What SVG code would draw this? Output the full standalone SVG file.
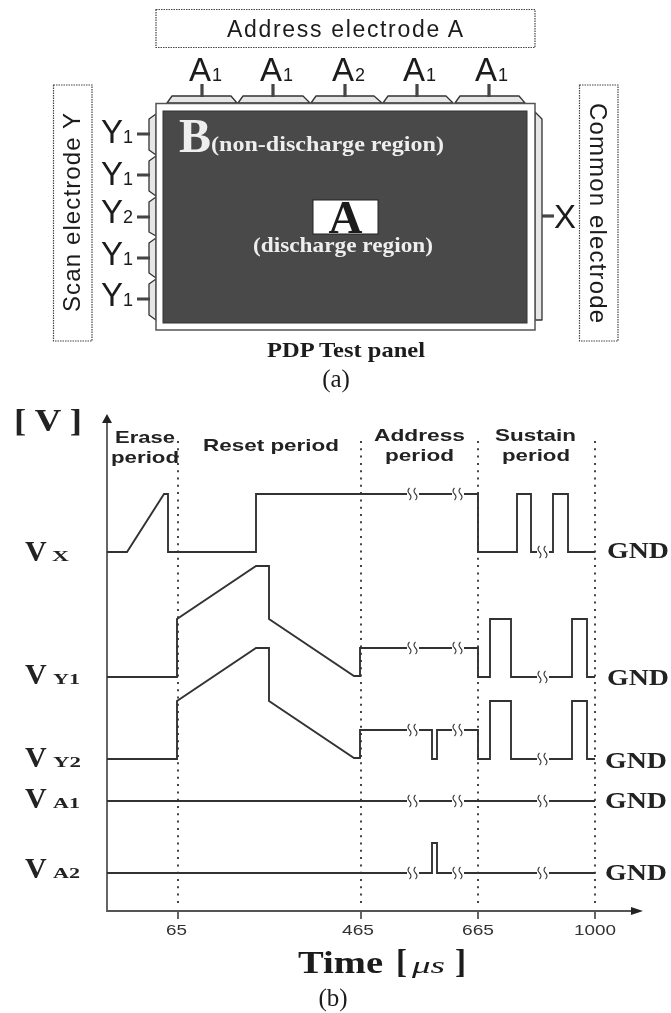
<svg xmlns="http://www.w3.org/2000/svg" width="671" height="1013" viewBox="0 0 671 1013">
<style>
.sans{font-family:"Liberation Sans",Arial,sans-serif;fill:#1a1a1a}
.serif{font-family:"Liberation Serif","Times New Roman",serif;fill:#1a1a1a}
.b{font-weight:bold}
.lab{font-size:33px}
.sub{font-size:18px}
.dotbox{fill:#fff;stroke:#444;stroke-width:1.2;stroke-dasharray:1.5 1}
.tab{fill:#e6e6e6;stroke:#333;stroke-width:1.3;stroke-linejoin:round}
.stem{stroke:#444;stroke-width:3.2;fill:none}
.wave{fill:none;stroke:#333;stroke-width:1.9;stroke-linejoin:miter}
.axis{fill:none;stroke:#555;stroke-width:1.8}
.dots{fill:none;stroke:#444;stroke-width:2;stroke-dasharray:2 5.3}
.per{font-family:"Liberation Sans",Arial,sans-serif;font-weight:bold;font-size:17px;fill:#222}
.v{font-family:"Liberation Serif",serif;font-weight:bold;font-size:30px;fill:#222}
.vs{font-family:"Liberation Serif",serif;font-weight:bold;font-size:15px;fill:#222}
.gnd{font-family:"Liberation Serif",serif;font-weight:bold;font-size:23px;fill:#222}
.tick{font-family:"Liberation Sans",sans-serif;font-size:15.5px;fill:#333}
</style>
<defs>
<g id="brk"><rect x="-6" y="-5" width="12" height="10" fill="#fff"/><path d="M-3.5,-6 Q-6.500,-3 -3.500,0 Q-0.500,3 -3.500,6 M2.500,-6 Q-0.500,-3 2.500,0 Q5.500,3 2.500,6" fill="none" stroke="#333" stroke-width="1.1"/></g>
<filter id="soft" x="-2%" y="-2%" width="104%" height="104%"><feGaussianBlur stdDeviation="0.45"/></filter>
</defs>
<rect width="671" height="1013" fill="#fff"/>
<g filter="url(#soft)">
<g id="address-box"><rect class="dotbox" x="156" y="9.5" width="379" height="38"/><text class="sans" x="227" y="37" font-size="23" textLength="236">Address electrode A</text></g>
<g id="scan-box"><rect class="dotbox" x="53.500" y="85" width="38.500" height="256"/><text class="sans" font-size="24" transform="translate(80,312) rotate(-90)" textLength="199">Scan electrode Y</text></g>
<g id="common-box"><rect class="dotbox" x="579.500" y="85" width="38.500" height="256"/><text class="sans" font-size="24" transform="translate(590,103) rotate(90)" textLength="220">Common electrode</text></g>

<g id="panel">
<path class="tab" d="M167,103L172,96H231L237,103Z M238,103L243,96H303L310,103Z M311,103L316,96H374L382,103Z M383,103L388,96H446L453,103Z M455,103L460,96H519L525,103Z"/>
<path class="tab" d="M156,114L149,119V150L156,155Z M156,156L149,161V191L156,196Z M156,197L149,202V232L156,236Z M156,238L149,243V273L156,278Z M156,279L149,284V315L156,320Z"/>
<path class="tab" d="M535,112L542,119V320H535Z"/>
<rect x="156" y="103.500" width="379" height="226.500" fill="#fff" stroke="#555" stroke-width="1.500"/>
<rect x="163" y="111" width="364" height="212" fill="#484848" stroke="#333"/>
<rect x="313" y="200" width="65" height="34" fill="#fff" stroke="#222"/>
<text class="serif b" x="345.500" y="233" font-size="47" text-anchor="middle" fill="#111">A</text>
<text x="179" y="152" font-family="Liberation Serif,serif" font-weight="bold" font-size="48" fill="#eee">B</text>
<text x="211" y="151" font-family="Liberation Serif,serif" font-weight="bold" font-size="22" fill="#eee" textLength="233" lengthAdjust="spacingAndGlyphs">(non-discharge region)</text>
<text x="253" y="252" font-family="Liberation Serif,serif" font-weight="bold" font-size="21" fill="#eee" textLength="180" lengthAdjust="spacingAndGlyphs">(discharge region)</text>
</g>

<g id="address-terminals">
<path class="stem" d="M202,84V97M273,84V97M345,84V97M417,84V97M489,84V97"/>
<text class="sans lab" x="189" y="81">A</text><text class="sans sub" x="212" y="81">1</text>
<text class="sans lab" x="260" y="81">A</text><text class="sans sub" x="283" y="81">1</text>
<text class="sans lab" x="332" y="81">A</text><text class="sans sub" x="355" y="81">2</text>
<text class="sans lab" x="403" y="81">A</text><text class="sans sub" x="426" y="81">1</text>
<text class="sans lab" x="475" y="81">A</text><text class="sans sub" x="498" y="81">1</text>
</g>
<g id="scan-terminals">
<path class="stem" d="M137,134H150M137,175H150M137,217H150M137,258H150M137,299H150"/>
<text class="sans lab" x="101" y="143">Y</text><text class="sans sub" x="123" y="143">1</text>
<text class="sans lab" x="101" y="185">Y</text><text class="sans sub" x="123" y="185">1</text>
<text class="sans lab" x="101" y="223">Y</text><text class="sans sub" x="123" y="223">2</text>
<text class="sans lab" x="101" y="265">Y</text><text class="sans sub" x="123" y="265">1</text>
<text class="sans lab" x="101" y="306">Y</text><text class="sans sub" x="123" y="306">1</text>
</g>
<g id="common-terminal"><path class="stem" d="M542,216H554"/><text class="sans lab" x="554" y="228">X</text></g>
<text class="serif b" x="267" y="357" font-size="22" textLength="158" lengthAdjust="spacingAndGlyphs">PDP Test panel</text>
<text class="serif" x="336" y="387" font-size="25" text-anchor="middle">(a)</text>

<g id="axes">
<path class="axis" d="M107,418V911H636"/>
<path d="M107,414L102,423H112Z M643,911L631,907V915Z" fill="#222"/>
<path class="axis" d="M178,911V919M361,911V919M478,911V919M595,911V919"/>
<path class="dots" d="M178,441V908M361,441V908M478,441V908M595,441V908"/>
</g>
<g id="labels">
<text x="14" y="431" font-family="Liberation Serif,serif" font-weight="bold" font-size="31" fill="#222" textLength="68" lengthAdjust="spacingAndGlyphs">[ V ]</text>
<text class="per" x="115" y="443" textLength="60" lengthAdjust="spacingAndGlyphs">Erase</text><text class="per" x="111" y="463" textLength="68" lengthAdjust="spacingAndGlyphs">period</text>
<text class="per" x="203" y="451" textLength="136" lengthAdjust="spacingAndGlyphs">Reset period</text>
<text class="per" x="374" y="441" textLength="91" lengthAdjust="spacingAndGlyphs">Address</text><text class="per" x="385" y="461" textLength="69" lengthAdjust="spacingAndGlyphs">period</text>
<text class="per" x="495" y="441" textLength="81" lengthAdjust="spacingAndGlyphs">Sustain</text><text class="per" x="502" y="461" textLength="68" lengthAdjust="spacingAndGlyphs">period</text>
<text class="v" x="25" y="561">V</text><text class="vs" x="52" y="561" textLength="17" lengthAdjust="spacingAndGlyphs">X</text>
<text class="v" x="25" y="684">V</text><text class="vs" x="53" y="684" textLength="27" lengthAdjust="spacingAndGlyphs">Y1</text>
<text class="v" x="25" y="767">V</text><text class="vs" x="53" y="767" textLength="28" lengthAdjust="spacingAndGlyphs">Y2</text>
<text class="v" x="25" y="808">V</text><text class="vs" x="53" y="808" textLength="27" lengthAdjust="spacingAndGlyphs">A1</text>
<text class="v" x="25" y="878">V</text><text class="vs" x="53" y="878" textLength="27" lengthAdjust="spacingAndGlyphs">A2</text>
<text class="gnd" x="607" y="558" textLength="62" lengthAdjust="spacingAndGlyphs">GND</text>
<text class="gnd" x="607" y="685" textLength="62" lengthAdjust="spacingAndGlyphs">GND</text>
<text class="gnd" x="605" y="768" textLength="62" lengthAdjust="spacingAndGlyphs">GND</text>
<text class="gnd" x="605" y="808" textLength="62" lengthAdjust="spacingAndGlyphs">GND</text>
<text class="gnd" x="605" y="880" textLength="62" lengthAdjust="spacingAndGlyphs">GND</text>
<text class="tick" x="166" y="935" textLength="21" lengthAdjust="spacingAndGlyphs">65</text><text class="tick" x="342" y="935" textLength="32" lengthAdjust="spacingAndGlyphs">465</text><text class="tick" x="462" y="935" textLength="32" lengthAdjust="spacingAndGlyphs">665</text><text class="tick" x="574" y="935" textLength="42" lengthAdjust="spacingAndGlyphs">1000</text>
<text class="serif b" x="298" y="973" font-size="31" textLength="85" lengthAdjust="spacingAndGlyphs">Time</text>
<text class="serif b" x="396" y="973" font-size="33">[</text>
<text class="serif" x="412" y="973" font-size="24" font-style="italic" textLength="33" lengthAdjust="spacingAndGlyphs">μs</text>
<text class="serif b" x="455" y="973" font-size="33">]</text>
<text class="serif" x="333" y="1006" font-size="25" text-anchor="middle">(b)</text>
</g>
<g id="waveforms">
<path class="wave" d="M107,552H127L164,494H168V552H256V494H478V552H517V494H531V552H553V494H568V552H595"/>
<path class="wave" d="M107,677H177V619L256,566H269V619L354,676H360V648H478V677H490V619H511V677H572V619H587V677H595"/>
<path class="wave" d="M107,759H177V701L256,648H269V701L354,758H360V730H432V759H437V730H478V759H490V701H511V759H572V701H587V759H595"/>
<path class="wave" d="M107,801H595"/>
<path class="wave" d="M107,873H432V843H437V873H595"/>
<use href="#brk" x="413" y="494"/><use href="#brk" x="458" y="494"/><use href="#brk" x="543" y="552"/>
<use href="#brk" x="413" y="648"/><use href="#brk" x="458" y="648"/><use href="#brk" x="543" y="677"/>
<use href="#brk" x="413" y="730"/><use href="#brk" x="458" y="730"/><use href="#brk" x="543" y="759"/>
<use href="#brk" x="413" y="801"/><use href="#brk" x="458" y="801"/><use href="#brk" x="543" y="801"/>
<use href="#brk" x="413" y="873"/><use href="#brk" x="458" y="873"/><use href="#brk" x="543" y="873"/>
</g>
</g>
</svg>
